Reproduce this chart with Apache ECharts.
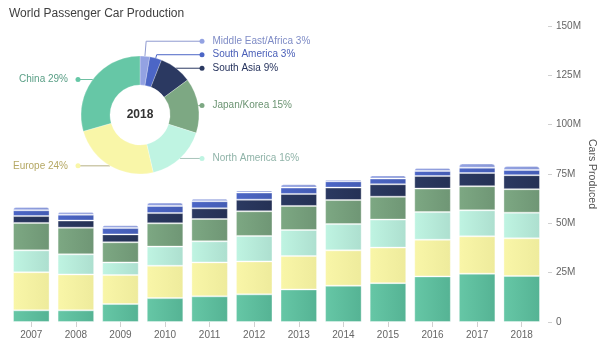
<!DOCTYPE html>
<html>
<head>
<meta charset="utf-8">
<script src="https://cdn.jsdelivr.net/npm/echarts@6/dist/echarts.min.js"></script>
<style>
  html, body { margin: 0; padding: 0; background: #fff; }
  #chart { width: 604px; height: 346px; }
</style>
</head>
<body>
<div id="chart"></div>
<script>
// Passenger car production by region, millions of cars
var years = ['2007', '2008', '2009', '2010', '2011', '2012', '2013', '2014', '2015', '2016', '2017', '2018'];
var china = [5.9, 5.9, 9.1, 12.1, 13.0, 14.0, 16.5, 18.4, 19.7, 23.1, 24.5, 23.3];
var europe = [19.3, 18.2, 14.7, 16.4, 17.2, 16.7, 16.9, 17.9, 18.0, 18.6, 18.9, 19.1];
var northAmerica = [11.1, 10.2, 6.4, 9.7, 10.7, 12.9, 13.2, 13.3, 14.2, 14.0, 13.2, 13.0];
var japanKorea = [13.9, 13.5, 10.2, 11.8, 11.3, 12.5, 12.2, 12.2, 11.6, 11.9, 12.2, 11.9];
var southAsia = [3.5, 3.6, 4.0, 5.2, 5.4, 5.9, 6.1, 6.3, 6.3, 6.4, 6.7, 7.1];
var southAmerica = [2.9, 3.0, 3.2, 3.6, 3.6, 3.6, 3.2, 3.2, 2.9, 2.5, 2.7, 2.6];
var middleEastAfrica = [1.7, 1.3, 1.4, 1.7, 1.3, 1.1, 1.7, 0.9, 1.6, 1.5, 2.1, 2.1];
var yTicks = [0, 25, 50, 75, 100, 125, 150];
var pieYear = '2018';

var FONT = 'Liberation Sans';

var regions = [
  { name: 'China', values: china, color: '#66c7a6', dark: '#55b394', text: '#5a9f86', line: '#6fbfa2' },
  { name: 'Europe', values: europe, color: '#f9f6a8', dark: '#eeeb9c', text: '#b5a864', line: '#b7b184' },
  { name: 'North America', values: northAmerica, color: '#bff4e2', dark: '#addfcf', text: '#8fb3a8', line: '#a9c4bb' },
  { name: 'Japan/Korea', values: japanKorea, color: '#7da883', dark: '#6f9675', text: '#6c9473', line: '#7da883' },
  { name: 'South Asia', values: southAsia, color: '#2b3961', dark: '#253155', text: '#27345e', line: '#2b3961' },
  { name: 'South America', values: southAmerica, color: '#4c66c6', dark: '#445cb4', text: '#4a5fb8', line: '#4c66c6' },
  { name: 'Middle East/Africa', values: middleEastAfrica, color: '#93a2e2', dark: '#8796d6', text: '#7f8cc6', line: '#8f9ad0' }
];

// donut geometry
var pieCenter = [140, 115];
var pieRadius = [30, 59];
var lineEndRadius = 62;   // horizontal distance from the centre where leader lines end
var labelGap = 13.5;      // minimum vertical spacing between labels on one side

var pieIndex = years.indexOf(pieYear);

var pieData = regions.slice().reverse().map(function (r) {
  return {
    name: r.name,
    value: r.values[pieIndex],
    itemStyle: { color: r.color },
    labelLine: { lineStyle: { color: r.line } },
    _region: r
  };
});

// Leader-line anchors on the outer rim, at each slice's mid angle (clockwise from 12 o'clock)
function layoutPieLabels(data) {
  var total = data.reduce(function (s, d) { return s + d.value; }, 0);
  var acc = 0;
  var items = data.map(function (d, i) {
    var midDeg = 90 - (acc + d.value / 2) / total * 360;
    acc += d.value;
    var rad = midDeg * Math.PI / 180;
    var ax = pieCenter[0] + pieRadius[1] * Math.cos(rad);
    var ay = pieCenter[1] - pieRadius[1] * Math.sin(rad);
    return { index: i, rad: rad, ax: ax, ay: ay, right: Math.cos(rad) >= 0, y: ay };
  });
  // push crowded labels upward, starting from the lowest one on each side
  [true, false].forEach(function (side) {
    var list = items.filter(function (it) { return it.right === side; })
      .sort(function (a, b) { return b.ay - a.ay; });
    var prev = Infinity;
    list.forEach(function (it) {
      it.y = Math.min(it.ay, prev - labelGap);
      prev = it.y;
    });
  });
  return items;
}
var pieLabels = layoutPieLabels(pieData);

pieData.forEach(function (d, i) {
  var r = d._region;
  var right = pieLabels[i].right;
  d.label = {
    rich: {
      dot: { width: 5, height: 5, borderRadius: 2.5, backgroundColor: r.color },
      t: { color: r.text, fontSize: 10, fontFamily: FONT, padding: right ? [0, 0, 0, 8] : [0, 7.5, 0, 0] }
    }
  };
  delete d._region;
});

var barSeries = regions.map(function (r, i) {
  var top = i === regions.length - 1;
  return {
    name: r.name,
    type: 'bar',
    stack: 'total',
    barCategoryGap: '18%',
    data: r.values,
    itemStyle: {
      color: {
        type: 'linear', x: 0, y: 0, x2: 1, y2: 0,
        colorStops: [{ offset: 0, color: r.color }, { offset: 1, color: r.dark }]
      },
      borderColor: 'rgba(255,255,255,0.35)',
      borderWidth: 1,
      borderRadius: top ? [4, 4, 0, 0] : 0
    },
    emphasis: { disabled: true }
  };
});

var chart = echarts.init(document.getElementById('chart'), null, { renderer: 'canvas' });
chart.setOption({
  animation: false,
  title: {
    text: 'World Passenger Car Production',
    left: 9, top: 8, padding: 0,
    textStyle: { fontSize: 12, fontWeight: 'normal', color: '#404040', fontFamily: FONT }
  },
  graphic: [{
    type: 'text',
    x: pieCenter[0], y: pieCenter[1],
    z: 100,
    style: {
      text: pieYear,
      align: 'center', verticalAlign: 'middle',
      font: 'bold 12px "' + FONT + '"',
      fill: '#333'
    }
  }],
  grid: { left: 9, right: 60, top: 26, bottom: 24, containLabel: false, outerBoundsMode: 'none' },
  xAxis: {
    type: 'category',
    data: years,
    axisLine: { show: false },
    axisTick: { show: true, alignWithLabel: true, length: 5, lineStyle: { color: '#d0d0d0' } },
    axisLabel: { color: '#666', fontSize: 10, margin: 8, fontFamily: FONT }
  },
  yAxis: {
    type: 'value',
    position: 'right',
    offset: 4,
    min: yTicks[0],
    max: yTicks[yTicks.length - 1],
    interval: yTicks[1] - yTicks[0],
    name: 'Cars Produced',
    nameLocation: 'middle',
    nameRotate: -90,
    nameGap: 38,
    nameMoveOverlap: false,
    nameTextStyle: { color: '#555', fontSize: 10.5, fontFamily: FONT },
    axisLine: { show: false },
    axisTick: { show: true, length: 4, lineStyle: { color: '#d0d0d0' } },
    splitLine: { show: false },
    axisLabel: {
      color: '#666', fontSize: 10, margin: 8, fontFamily: FONT,
      formatter: function (v) { return v === 0 ? '0' : v + 'M'; }
    }
  },
  series: barSeries.concat([{
    name: pieYear,
    type: 'pie',
    center: pieCenter,
    radius: pieRadius,
    startAngle: 90,
    clockwise: true,
    avoidLabelOverlap: false,
    itemStyle: { borderColor: 'rgba(255,255,255,0.5)', borderWidth: 0.5 },
    label: {
      formatter: function (p) {
        var t = '{t|' + p.name + ' ' + Math.round(p.percent) + '%}';
        return pieLabels[p.dataIndex].right ? '{dot|}' + t : t + '{dot|}';
      }
    },
    labelLine: { show: true, length: 0, length2: 4, lineStyle: { width: 1 } },
    labelLayout: function (params) {
      var it = pieLabels[params.dataIndex];
      var dir = it.right ? 1 : -1;
      var endX = pieCenter[0] + dir * lineEndRadius;
      var bend = [it.ax, it.ay];
      if (it.y < it.ay - 0.5) {
        var s = Math.sin(it.rad);
        var len = (it.ay - it.y) / s;
        bend = [it.ax + len * Math.cos(it.rad), it.y];
      }
      return {
        x: endX - dir * 2.5,
        y: it.y,
        align: it.right ? 'left' : 'right',
        verticalAlign: 'middle',
        labelLinePoints: [[it.ax, it.ay], bend, [endX, it.y]]
      };
    },
    emphasis: { disabled: true },
    data: pieData
  }])
});
</script>
</body>
</html>
